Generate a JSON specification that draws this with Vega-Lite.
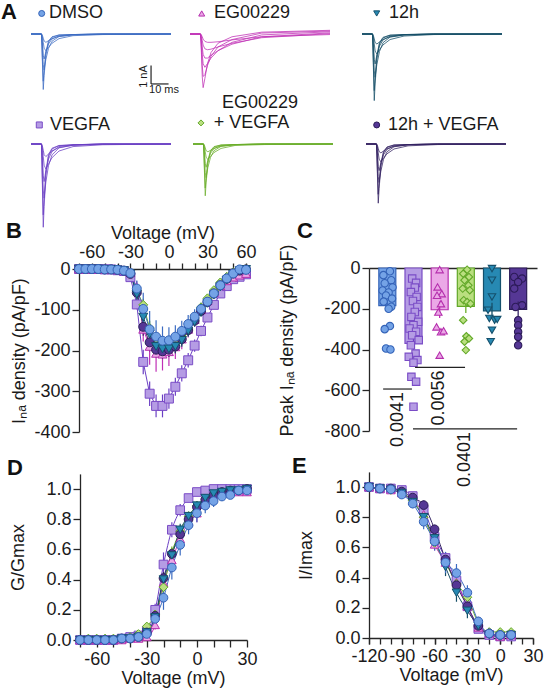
{
  "$schema": "https://vega.github.io/schema/vega-lite/v6.json",
  "width": 544,
  "height": 696,
  "padding": 0,
  "autosize": {"type": "none"},
  "background": "white",
  "config": {
    "font": "Liberation Sans",
    "view": {"stroke": null},
    "legend": {"disable": true},
    "axis": {
      "grid": false,
      "domainColor": "#262626",
      "domainWidth": 1.3,
      "tickColor": "#262626",
      "tickWidth": 1.3,
      "labelFontSize": 18,
      "titleFontSize": 18,
      "titleFontWeight": "normal",
      "labelColor": "#1a1a1a",
      "titleColor": "#1a1a1a",
      "labelOverlap": false,
      "labelFlush": false
    }
  },
  "datasets": {
    "traces": [
      {"g":"DMSO","k":1,"t":-6,"i":0},{"g":"DMSO","k":1,"t":0,"i":0},{"g":"DMSO","k":1,"t":0.5,"i":-1.5},{"g":"DMSO","k":1,"t":1,"i":-3.0},{"g":"DMSO","k":1,"t":1.5,"i":-2.25},{"g":"DMSO","k":1,"t":2.5,"i":-1.14},{"g":"DMSO","k":1,"t":4,"i":-0.45},{"g":"DMSO","k":1,"t":6,"i":-0.18},{"g":"DMSO","k":1,"t":10,"i":-0.06},{"g":"DMSO","k":1,"t":18,"i":-0.03},{"g":"DMSO","k":1,"t":35,"i":0},{"g":"DMSO","k":1,"t":74,"i":0},
      {"g":"DMSO","k":2,"t":-6,"i":0},{"g":"DMSO","k":2,"t":0,"i":0},{"g":"DMSO","k":2,"t":0.5,"i":-1.28},{"g":"DMSO","k":2,"t":1,"i":-2.55},{"g":"DMSO","k":2,"t":1.5,"i":-1.91},{"g":"DMSO","k":2,"t":2.5,"i":-0.97},{"g":"DMSO","k":2,"t":4,"i":-0.38},{"g":"DMSO","k":2,"t":6,"i":-0.15},{"g":"DMSO","k":2,"t":10,"i":-0.05},{"g":"DMSO","k":2,"t":18,"i":-0.03},{"g":"DMSO","k":2,"t":35,"i":0},{"g":"DMSO","k":2,"t":74,"i":0},
      {"g":"DMSO","k":3,"t":-6,"i":0},{"g":"DMSO","k":3,"t":0,"i":0},{"g":"DMSO","k":3,"t":0.5,"i":-0.59},{"g":"DMSO","k":3,"t":1,"i":-1.66},{"g":"DMSO","k":3,"t":1.5,"i":-1.95},{"g":"DMSO","k":3,"t":2.5,"i":-1.37},{"g":"DMSO","k":3,"t":4,"i":-0.78},{"g":"DMSO","k":3,"t":6,"i":-0.39},{"g":"DMSO","k":3,"t":10,"i":-0.14},{"g":"DMSO","k":3,"t":18,"i":-0.04},{"g":"DMSO","k":3,"t":35,"i":0},{"g":"DMSO","k":3,"t":74,"i":0},
      {"g":"DMSO","k":4,"t":-6,"i":0},{"g":"DMSO","k":4,"t":0,"i":0},{"g":"DMSO","k":4,"t":0.5,"i":-0.41},{"g":"DMSO","k":4,"t":1,"i":-1.15},{"g":"DMSO","k":4,"t":1.5,"i":-1.35},{"g":"DMSO","k":4,"t":2.5,"i":-0.95},{"g":"DMSO","k":4,"t":4,"i":-0.54},{"g":"DMSO","k":4,"t":6,"i":-0.27},{"g":"DMSO","k":4,"t":10,"i":-0.1},{"g":"DMSO","k":4,"t":18,"i":-0.03},{"g":"DMSO","k":4,"t":35,"i":0},{"g":"DMSO","k":4,"t":74,"i":0},
      {"g":"DMSO","k":5,"t":-6,"i":0},{"g":"DMSO","k":5,"t":0,"i":0},{"g":"DMSO","k":5,"t":0.5,"i":-0.14},{"g":"DMSO","k":5,"t":1,"i":-0.45},{"g":"DMSO","k":5,"t":1.5,"i":-0.77},{"g":"DMSO","k":5,"t":2.5,"i":-0.9},{"g":"DMSO","k":5,"t":4,"i":-0.72},{"g":"DMSO","k":5,"t":6,"i":-0.5},{"g":"DMSO","k":5,"t":10,"i":-0.25},{"g":"DMSO","k":5,"t":18,"i":-0.09},{"g":"DMSO","k":5,"t":35,"i":-0.03},{"g":"DMSO","k":5,"t":74,"i":0},
      {"g":"DMSO","k":6,"t":-6,"i":0},{"g":"DMSO","k":6,"t":0,"i":0},{"g":"DMSO","k":6,"t":0.5,"i":-0.07},{"g":"DMSO","k":6,"t":1,"i":-0.23},{"g":"DMSO","k":6,"t":1.5,"i":-0.38},{"g":"DMSO","k":6,"t":2.5,"i":-0.45},{"g":"DMSO","k":6,"t":4,"i":-0.36},{"g":"DMSO","k":6,"t":6,"i":-0.25},{"g":"DMSO","k":6,"t":10,"i":-0.13},{"g":"DMSO","k":6,"t":18,"i":-0.05},{"g":"DMSO","k":6,"t":35,"i":-0.02},{"g":"DMSO","k":6,"t":74,"i":0},

      {"g":"EG00229","k":1,"t":-6,"i":0},{"g":"EG00229","k":1,"t":0,"i":0},{"g":"EG00229","k":1,"t":0.5,"i":-1.0},{"g":"EG00229","k":1,"t":1,"i":-2.3},{"g":"EG00229","k":1,"t":1.5,"i":-2.9},{"g":"EG00229","k":1,"t":2.5,"i":-2.4},{"g":"EG00229","k":1,"t":4,"i":-1.6},{"g":"EG00229","k":1,"t":6,"i":-1.0},{"g":"EG00229","k":1,"t":10,"i":-0.5},{"g":"EG00229","k":1,"t":18,"i":-0.15},{"g":"EG00229","k":1,"t":35,"i":0.1},{"g":"EG00229","k":1,"t":74,"i":0.2},
      {"g":"EG00229","k":2,"t":-6,"i":0},{"g":"EG00229","k":2,"t":0,"i":0},{"g":"EG00229","k":2,"t":0.5,"i":-0.7},{"g":"EG00229","k":2,"t":1,"i":-1.7},{"g":"EG00229","k":2,"t":1.5,"i":-2.3},{"g":"EG00229","k":2,"t":2.5,"i":-2.2},{"g":"EG00229","k":2,"t":4,"i":-1.7},{"g":"EG00229","k":2,"t":6,"i":-1.2},{"g":"EG00229","k":2,"t":10,"i":-0.7},{"g":"EG00229","k":2,"t":18,"i":-0.3},{"g":"EG00229","k":2,"t":35,"i":0.05},{"g":"EG00229","k":2,"t":74,"i":0.16},
      {"g":"EG00229","k":3,"t":-6,"i":0},{"g":"EG00229","k":3,"t":0,"i":0},{"g":"EG00229","k":3,"t":0.5,"i":-0.4},{"g":"EG00229","k":3,"t":1,"i":-1.1},{"g":"EG00229","k":3,"t":1.5,"i":-1.6},{"g":"EG00229","k":3,"t":2.5,"i":-1.8},{"g":"EG00229","k":3,"t":4,"i":-1.6},{"g":"EG00229","k":3,"t":6,"i":-1.3},{"g":"EG00229","k":3,"t":10,"i":-0.9},{"g":"EG00229","k":3,"t":18,"i":-0.45},{"g":"EG00229","k":3,"t":35,"i":-0.05},{"g":"EG00229","k":3,"t":74,"i":0.12},
      {"g":"EG00229","k":4,"t":-6,"i":0},{"g":"EG00229","k":4,"t":0,"i":0},{"g":"EG00229","k":4,"t":0.5,"i":-0.25},{"g":"EG00229","k":4,"t":1,"i":-0.7},{"g":"EG00229","k":4,"t":1.5,"i":-1.1},{"g":"EG00229","k":4,"t":2.5,"i":-1.3},{"g":"EG00229","k":4,"t":4,"i":-1.3},{"g":"EG00229","k":4,"t":6,"i":-1.15},{"g":"EG00229","k":4,"t":10,"i":-0.9},{"g":"EG00229","k":4,"t":18,"i":-0.55},{"g":"EG00229","k":4,"t":35,"i":-0.15},{"g":"EG00229","k":4,"t":74,"i":0.06},
      {"g":"EG00229","k":5,"t":-6,"i":0},{"g":"EG00229","k":5,"t":0,"i":0},{"g":"EG00229","k":5,"t":0.5,"i":-0.12},{"g":"EG00229","k":5,"t":1,"i":-0.35},{"g":"EG00229","k":5,"t":1.5,"i":-0.6},{"g":"EG00229","k":5,"t":2.5,"i":-0.8},{"g":"EG00229","k":5,"t":4,"i":-0.85},{"g":"EG00229","k":5,"t":6,"i":-0.82},{"g":"EG00229","k":5,"t":10,"i":-0.7},{"g":"EG00229","k":5,"t":18,"i":-0.5},{"g":"EG00229","k":5,"t":35,"i":-0.2},{"g":"EG00229","k":5,"t":74,"i":0.02},
      {"g":"EG00229","k":6,"t":-6,"i":0},{"g":"EG00229","k":6,"t":0,"i":0},{"g":"EG00229","k":6,"t":0.5,"i":-0.05},{"g":"EG00229","k":6,"t":1,"i":-0.15},{"g":"EG00229","k":6,"t":1.5,"i":-0.28},{"g":"EG00229","k":6,"t":2.5,"i":-0.4},{"g":"EG00229","k":6,"t":4,"i":-0.45},{"g":"EG00229","k":6,"t":6,"i":-0.45},{"g":"EG00229","k":6,"t":10,"i":-0.42},{"g":"EG00229","k":6,"t":18,"i":-0.32},{"g":"EG00229","k":6,"t":35,"i":-0.15},{"g":"EG00229","k":6,"t":74,"i":-0.03},

      {"g":"12h","k":1,"t":-6,"i":0},{"g":"12h","k":1,"t":0,"i":0},{"g":"12h","k":1,"t":0.5,"i":-1.8},{"g":"12h","k":1,"t":1,"i":-3.6},{"g":"12h","k":1,"t":1.5,"i":-2.7},{"g":"12h","k":1,"t":2.5,"i":-1.37},{"g":"12h","k":1,"t":4,"i":-0.54},{"g":"12h","k":1,"t":6,"i":-0.22},{"g":"12h","k":1,"t":10,"i":-0.07},{"g":"12h","k":1,"t":18,"i":-0.04},{"g":"12h","k":1,"t":35,"i":0},{"g":"12h","k":1,"t":74,"i":0},
      {"g":"12h","k":2,"t":-6,"i":0},{"g":"12h","k":2,"t":0,"i":0},{"g":"12h","k":2,"t":0.5,"i":-1.53},{"g":"12h","k":2,"t":1,"i":-3.06},{"g":"12h","k":2,"t":1.5,"i":-2.3},{"g":"12h","k":2,"t":2.5,"i":-1.16},{"g":"12h","k":2,"t":4,"i":-0.46},{"g":"12h","k":2,"t":6,"i":-0.18},{"g":"12h","k":2,"t":10,"i":-0.06},{"g":"12h","k":2,"t":18,"i":-0.03},{"g":"12h","k":2,"t":35,"i":0},{"g":"12h","k":2,"t":74,"i":0},
      {"g":"12h","k":3,"t":-6,"i":0},{"g":"12h","k":3,"t":0,"i":0},{"g":"12h","k":3,"t":0.5,"i":-0.7},{"g":"12h","k":3,"t":1,"i":-1.99},{"g":"12h","k":3,"t":1.5,"i":-2.34},{"g":"12h","k":3,"t":2.5,"i":-1.64},{"g":"12h","k":3,"t":4,"i":-0.94},{"g":"12h","k":3,"t":6,"i":-0.47},{"g":"12h","k":3,"t":10,"i":-0.17},{"g":"12h","k":3,"t":18,"i":-0.05},{"g":"12h","k":3,"t":35,"i":0},{"g":"12h","k":3,"t":74,"i":0},
      {"g":"12h","k":4,"t":-6,"i":0},{"g":"12h","k":4,"t":0,"i":0},{"g":"12h","k":4,"t":0.5,"i":-0.49},{"g":"12h","k":4,"t":1,"i":-1.38},{"g":"12h","k":4,"t":1.5,"i":-1.62},{"g":"12h","k":4,"t":2.5,"i":-1.13},{"g":"12h","k":4,"t":4,"i":-0.65},{"g":"12h","k":4,"t":6,"i":-0.32},{"g":"12h","k":4,"t":10,"i":-0.12},{"g":"12h","k":4,"t":18,"i":-0.03},{"g":"12h","k":4,"t":35,"i":0},{"g":"12h","k":4,"t":74,"i":0},
      {"g":"12h","k":5,"t":-6,"i":0},{"g":"12h","k":5,"t":0,"i":0},{"g":"12h","k":5,"t":0.5,"i":-0.16},{"g":"12h","k":5,"t":1,"i":-0.54},{"g":"12h","k":5,"t":1.5,"i":-0.92},{"g":"12h","k":5,"t":2.5,"i":-1.08},{"g":"12h","k":5,"t":4,"i":-0.86},{"g":"12h","k":5,"t":6,"i":-0.59},{"g":"12h","k":5,"t":10,"i":-0.3},{"g":"12h","k":5,"t":18,"i":-0.11},{"g":"12h","k":5,"t":35,"i":-0.03},{"g":"12h","k":5,"t":74,"i":0},
      {"g":"12h","k":6,"t":-6,"i":0},{"g":"12h","k":6,"t":0,"i":0},{"g":"12h","k":6,"t":0.5,"i":-0.08},{"g":"12h","k":6,"t":1,"i":-0.27},{"g":"12h","k":6,"t":1.5,"i":-0.46},{"g":"12h","k":6,"t":2.5,"i":-0.54},{"g":"12h","k":6,"t":4,"i":-0.43},{"g":"12h","k":6,"t":6,"i":-0.3},{"g":"12h","k":6,"t":10,"i":-0.15},{"g":"12h","k":6,"t":18,"i":-0.05},{"g":"12h","k":6,"t":35,"i":-0.02},{"g":"12h","k":6,"t":74,"i":0},

      {"g":"VEGFA","k":1,"t":-6,"i":0},{"g":"VEGFA","k":1,"t":0,"i":0},{"g":"VEGFA","k":1,"t":0.5,"i":-2.25},{"g":"VEGFA","k":1,"t":1,"i":-4.5},{"g":"VEGFA","k":1,"t":1.5,"i":-3.38},{"g":"VEGFA","k":1,"t":2.5,"i":-1.71},{"g":"VEGFA","k":1,"t":4,"i":-0.68},{"g":"VEGFA","k":1,"t":6,"i":-0.27},{"g":"VEGFA","k":1,"t":10,"i":-0.09},{"g":"VEGFA","k":1,"t":18,"i":-0.05},{"g":"VEGFA","k":1,"t":35,"i":0},{"g":"VEGFA","k":1,"t":74,"i":0},
      {"g":"VEGFA","k":2,"t":-6,"i":0},{"g":"VEGFA","k":2,"t":0,"i":0},{"g":"VEGFA","k":2,"t":0.5,"i":-1.91},{"g":"VEGFA","k":2,"t":1,"i":-3.83},{"g":"VEGFA","k":2,"t":1.5,"i":-2.87},{"g":"VEGFA","k":2,"t":2.5,"i":-1.45},{"g":"VEGFA","k":2,"t":4,"i":-0.58},{"g":"VEGFA","k":2,"t":6,"i":-0.23},{"g":"VEGFA","k":2,"t":10,"i":-0.08},{"g":"VEGFA","k":2,"t":18,"i":-0.04},{"g":"VEGFA","k":2,"t":35,"i":0},{"g":"VEGFA","k":2,"t":74,"i":0},
      {"g":"VEGFA","k":3,"t":-6,"i":0},{"g":"VEGFA","k":3,"t":0,"i":0},{"g":"VEGFA","k":3,"t":0.5,"i":-0.88},{"g":"VEGFA","k":3,"t":1,"i":-2.49},{"g":"VEGFA","k":3,"t":1.5,"i":-2.93},{"g":"VEGFA","k":3,"t":2.5,"i":-2.05},{"g":"VEGFA","k":3,"t":4,"i":-1.17},{"g":"VEGFA","k":3,"t":6,"i":-0.59},{"g":"VEGFA","k":3,"t":10,"i":-0.21},{"g":"VEGFA","k":3,"t":18,"i":-0.06},{"g":"VEGFA","k":3,"t":35,"i":0},{"g":"VEGFA","k":3,"t":74,"i":0},
      {"g":"VEGFA","k":4,"t":-6,"i":0},{"g":"VEGFA","k":4,"t":0,"i":0},{"g":"VEGFA","k":4,"t":0.5,"i":-0.61},{"g":"VEGFA","k":4,"t":1,"i":-1.72},{"g":"VEGFA","k":4,"t":1.5,"i":-2.03},{"g":"VEGFA","k":4,"t":2.5,"i":-1.42},{"g":"VEGFA","k":4,"t":4,"i":-0.81},{"g":"VEGFA","k":4,"t":6,"i":-0.41},{"g":"VEGFA","k":4,"t":10,"i":-0.14},{"g":"VEGFA","k":4,"t":18,"i":-0.04},{"g":"VEGFA","k":4,"t":35,"i":0},{"g":"VEGFA","k":4,"t":74,"i":0},
      {"g":"VEGFA","k":5,"t":-6,"i":0},{"g":"VEGFA","k":5,"t":0,"i":0},{"g":"VEGFA","k":5,"t":0.5,"i":-0.2},{"g":"VEGFA","k":5,"t":1,"i":-0.68},{"g":"VEGFA","k":5,"t":1.5,"i":-1.15},{"g":"VEGFA","k":5,"t":2.5,"i":-1.35},{"g":"VEGFA","k":5,"t":4,"i":-1.08},{"g":"VEGFA","k":5,"t":6,"i":-0.74},{"g":"VEGFA","k":5,"t":10,"i":-0.38},{"g":"VEGFA","k":5,"t":18,"i":-0.14},{"g":"VEGFA","k":5,"t":35,"i":-0.04},{"g":"VEGFA","k":5,"t":74,"i":0},
      {"g":"VEGFA","k":6,"t":-6,"i":0},{"g":"VEGFA","k":6,"t":0,"i":0},{"g":"VEGFA","k":6,"t":0.5,"i":-0.1},{"g":"VEGFA","k":6,"t":1,"i":-0.34},{"g":"VEGFA","k":6,"t":1.5,"i":-0.58},{"g":"VEGFA","k":6,"t":2.5,"i":-0.68},{"g":"VEGFA","k":6,"t":4,"i":-0.54},{"g":"VEGFA","k":6,"t":6,"i":-0.37},{"g":"VEGFA","k":6,"t":10,"i":-0.19},{"g":"VEGFA","k":6,"t":18,"i":-0.07},{"g":"VEGFA","k":6,"t":35,"i":-0.02},{"g":"VEGFA","k":6,"t":74,"i":0},

      {"g":"EG00229 + VEGFA","k":1,"t":-6,"i":0},{"g":"EG00229 + VEGFA","k":1,"t":0,"i":0},{"g":"EG00229 + VEGFA","k":1,"t":0.5,"i":-1.4},{"g":"EG00229 + VEGFA","k":1,"t":1,"i":-2.8},{"g":"EG00229 + VEGFA","k":1,"t":1.5,"i":-2.1},{"g":"EG00229 + VEGFA","k":1,"t":2.5,"i":-1.06},{"g":"EG00229 + VEGFA","k":1,"t":4,"i":-0.42},{"g":"EG00229 + VEGFA","k":1,"t":6,"i":-0.17},{"g":"EG00229 + VEGFA","k":1,"t":10,"i":-0.06},{"g":"EG00229 + VEGFA","k":1,"t":18,"i":-0.03},{"g":"EG00229 + VEGFA","k":1,"t":35,"i":0},{"g":"EG00229 + VEGFA","k":1,"t":74,"i":0},
      {"g":"EG00229 + VEGFA","k":2,"t":-6,"i":0},{"g":"EG00229 + VEGFA","k":2,"t":0,"i":0},{"g":"EG00229 + VEGFA","k":2,"t":0.5,"i":-1.19},{"g":"EG00229 + VEGFA","k":2,"t":1,"i":-2.38},{"g":"EG00229 + VEGFA","k":2,"t":1.5,"i":-1.79},{"g":"EG00229 + VEGFA","k":2,"t":2.5,"i":-0.9},{"g":"EG00229 + VEGFA","k":2,"t":4,"i":-0.36},{"g":"EG00229 + VEGFA","k":2,"t":6,"i":-0.14},{"g":"EG00229 + VEGFA","k":2,"t":10,"i":-0.05},{"g":"EG00229 + VEGFA","k":2,"t":18,"i":-0.03},{"g":"EG00229 + VEGFA","k":2,"t":35,"i":0},{"g":"EG00229 + VEGFA","k":2,"t":74,"i":0},
      {"g":"EG00229 + VEGFA","k":3,"t":-6,"i":0},{"g":"EG00229 + VEGFA","k":3,"t":0,"i":0},{"g":"EG00229 + VEGFA","k":3,"t":0.5,"i":-0.55},{"g":"EG00229 + VEGFA","k":3,"t":1,"i":-1.55},{"g":"EG00229 + VEGFA","k":3,"t":1.5,"i":-1.82},{"g":"EG00229 + VEGFA","k":3,"t":2.5,"i":-1.27},{"g":"EG00229 + VEGFA","k":3,"t":4,"i":-0.73},{"g":"EG00229 + VEGFA","k":3,"t":6,"i":-0.36},{"g":"EG00229 + VEGFA","k":3,"t":10,"i":-0.13},{"g":"EG00229 + VEGFA","k":3,"t":18,"i":-0.04},{"g":"EG00229 + VEGFA","k":3,"t":35,"i":0},{"g":"EG00229 + VEGFA","k":3,"t":74,"i":0},
      {"g":"EG00229 + VEGFA","k":4,"t":-6,"i":0},{"g":"EG00229 + VEGFA","k":4,"t":0,"i":0},{"g":"EG00229 + VEGFA","k":4,"t":0.5,"i":-0.38},{"g":"EG00229 + VEGFA","k":4,"t":1,"i":-1.07},{"g":"EG00229 + VEGFA","k":4,"t":1.5,"i":-1.26},{"g":"EG00229 + VEGFA","k":4,"t":2.5,"i":-0.88},{"g":"EG00229 + VEGFA","k":4,"t":4,"i":-0.5},{"g":"EG00229 + VEGFA","k":4,"t":6,"i":-0.25},{"g":"EG00229 + VEGFA","k":4,"t":10,"i":-0.09},{"g":"EG00229 + VEGFA","k":4,"t":18,"i":-0.03},{"g":"EG00229 + VEGFA","k":4,"t":35,"i":0},{"g":"EG00229 + VEGFA","k":4,"t":74,"i":0},
      {"g":"EG00229 + VEGFA","k":5,"t":-6,"i":0},{"g":"EG00229 + VEGFA","k":5,"t":0,"i":0},{"g":"EG00229 + VEGFA","k":5,"t":0.5,"i":-0.13},{"g":"EG00229 + VEGFA","k":5,"t":1,"i":-0.42},{"g":"EG00229 + VEGFA","k":5,"t":1.5,"i":-0.71},{"g":"EG00229 + VEGFA","k":5,"t":2.5,"i":-0.84},{"g":"EG00229 + VEGFA","k":5,"t":4,"i":-0.67},{"g":"EG00229 + VEGFA","k":5,"t":6,"i":-0.46},{"g":"EG00229 + VEGFA","k":5,"t":10,"i":-0.24},{"g":"EG00229 + VEGFA","k":5,"t":18,"i":-0.08},{"g":"EG00229 + VEGFA","k":5,"t":35,"i":-0.03},{"g":"EG00229 + VEGFA","k":5,"t":74,"i":0},
      {"g":"EG00229 + VEGFA","k":6,"t":-6,"i":0},{"g":"EG00229 + VEGFA","k":6,"t":0,"i":0},{"g":"EG00229 + VEGFA","k":6,"t":0.5,"i":-0.06},{"g":"EG00229 + VEGFA","k":6,"t":1,"i":-0.21},{"g":"EG00229 + VEGFA","k":6,"t":1.5,"i":-0.36},{"g":"EG00229 + VEGFA","k":6,"t":2.5,"i":-0.42},{"g":"EG00229 + VEGFA","k":6,"t":4,"i":-0.34},{"g":"EG00229 + VEGFA","k":6,"t":6,"i":-0.23},{"g":"EG00229 + VEGFA","k":6,"t":10,"i":-0.12},{"g":"EG00229 + VEGFA","k":6,"t":18,"i":-0.04},{"g":"EG00229 + VEGFA","k":6,"t":35,"i":-0.01},{"g":"EG00229 + VEGFA","k":6,"t":74,"i":0},

      {"g":"12h + VEGFA","k":1,"t":-6,"i":0},{"g":"12h + VEGFA","k":1,"t":0,"i":0},{"g":"12h + VEGFA","k":1,"t":0.5,"i":-1.6},{"g":"12h + VEGFA","k":1,"t":1,"i":-3.2},{"g":"12h + VEGFA","k":1,"t":1.5,"i":-2.4},{"g":"12h + VEGFA","k":1,"t":2.5,"i":-1.22},{"g":"12h + VEGFA","k":1,"t":4,"i":-0.48},{"g":"12h + VEGFA","k":1,"t":6,"i":-0.19},{"g":"12h + VEGFA","k":1,"t":10,"i":-0.06},{"g":"12h + VEGFA","k":1,"t":18,"i":-0.03},{"g":"12h + VEGFA","k":1,"t":35,"i":0},{"g":"12h + VEGFA","k":1,"t":74,"i":0},
      {"g":"12h + VEGFA","k":2,"t":-6,"i":0},{"g":"12h + VEGFA","k":2,"t":0,"i":0},{"g":"12h + VEGFA","k":2,"t":0.5,"i":-1.36},{"g":"12h + VEGFA","k":2,"t":1,"i":-2.72},{"g":"12h + VEGFA","k":2,"t":1.5,"i":-2.04},{"g":"12h + VEGFA","k":2,"t":2.5,"i":-1.03},{"g":"12h + VEGFA","k":2,"t":4,"i":-0.41},{"g":"12h + VEGFA","k":2,"t":6,"i":-0.16},{"g":"12h + VEGFA","k":2,"t":10,"i":-0.05},{"g":"12h + VEGFA","k":2,"t":18,"i":-0.03},{"g":"12h + VEGFA","k":2,"t":35,"i":0},{"g":"12h + VEGFA","k":2,"t":74,"i":0},
      {"g":"12h + VEGFA","k":3,"t":-6,"i":0},{"g":"12h + VEGFA","k":3,"t":0,"i":0},{"g":"12h + VEGFA","k":3,"t":0.5,"i":-0.62},{"g":"12h + VEGFA","k":3,"t":1,"i":-1.77},{"g":"12h + VEGFA","k":3,"t":1.5,"i":-2.08},{"g":"12h + VEGFA","k":3,"t":2.5,"i":-1.46},{"g":"12h + VEGFA","k":3,"t":4,"i":-0.83},{"g":"12h + VEGFA","k":3,"t":6,"i":-0.42},{"g":"12h + VEGFA","k":3,"t":10,"i":-0.15},{"g":"12h + VEGFA","k":3,"t":18,"i":-0.04},{"g":"12h + VEGFA","k":3,"t":35,"i":0},{"g":"12h + VEGFA","k":3,"t":74,"i":0},
      {"g":"12h + VEGFA","k":4,"t":-6,"i":0},{"g":"12h + VEGFA","k":4,"t":0,"i":0},{"g":"12h + VEGFA","k":4,"t":0.5,"i":-0.43},{"g":"12h + VEGFA","k":4,"t":1,"i":-1.23},{"g":"12h + VEGFA","k":4,"t":1.5,"i":-1.44},{"g":"12h + VEGFA","k":4,"t":2.5,"i":-1.01},{"g":"12h + VEGFA","k":4,"t":4,"i":-0.58},{"g":"12h + VEGFA","k":4,"t":6,"i":-0.29},{"g":"12h + VEGFA","k":4,"t":10,"i":-0.1},{"g":"12h + VEGFA","k":4,"t":18,"i":-0.03},{"g":"12h + VEGFA","k":4,"t":35,"i":0},{"g":"12h + VEGFA","k":4,"t":74,"i":0},
      {"g":"12h + VEGFA","k":5,"t":-6,"i":0},{"g":"12h + VEGFA","k":5,"t":0,"i":0},{"g":"12h + VEGFA","k":5,"t":0.5,"i":-0.14},{"g":"12h + VEGFA","k":5,"t":1,"i":-0.48},{"g":"12h + VEGFA","k":5,"t":1.5,"i":-0.82},{"g":"12h + VEGFA","k":5,"t":2.5,"i":-0.96},{"g":"12h + VEGFA","k":5,"t":4,"i":-0.77},{"g":"12h + VEGFA","k":5,"t":6,"i":-0.53},{"g":"12h + VEGFA","k":5,"t":10,"i":-0.27},{"g":"12h + VEGFA","k":5,"t":18,"i":-0.1},{"g":"12h + VEGFA","k":5,"t":35,"i":-0.03},{"g":"12h + VEGFA","k":5,"t":74,"i":0},
      {"g":"12h + VEGFA","k":6,"t":-6,"i":0},{"g":"12h + VEGFA","k":6,"t":0,"i":0},{"g":"12h + VEGFA","k":6,"t":0.5,"i":-0.07},{"g":"12h + VEGFA","k":6,"t":1,"i":-0.24},{"g":"12h + VEGFA","k":6,"t":1.5,"i":-0.41},{"g":"12h + VEGFA","k":6,"t":2.5,"i":-0.48},{"g":"12h + VEGFA","k":6,"t":4,"i":-0.38},{"g":"12h + VEGFA","k":6,"t":6,"i":-0.26},{"g":"12h + VEGFA","k":6,"t":10,"i":-0.13},{"g":"12h + VEGFA","k":6,"t":18,"i":-0.05},{"g":"12h + VEGFA","k":6,"t":35,"i":-0.02},{"g":"12h + VEGFA","k":6,"t":74,"i":0}
    ],
    "iv": [
      {"g":"VEGFA","v":-70,"m":0,"e":0},{"g":"VEGFA","v":-65,"m":0,"e":0},{"g":"VEGFA","v":-60,"m":0,"e":0},{"g":"VEGFA","v":-55,"m":0,"e":0},{"g":"VEGFA","v":-50,"m":-1,"e":0},{"g":"VEGFA","v":-45,"m":-1,"e":0},{"g":"VEGFA","v":-40,"m":-3,"e":1},{"g":"VEGFA","v":-35,"m":-5,"e":2},{"g":"VEGFA","v":-30,"m":-20,"e":6},{"g":"VEGFA","v":-25,"m":-87,"e":12},{"g":"VEGFA","v":-20,"m":-228,"e":30},{"g":"VEGFA","v":-15,"m":-306,"e":30},{"g":"VEGFA","v":-10,"m":-336,"e":28},{"g":"VEGFA","v":-5,"m":-336,"e":28},{"g":"VEGFA","v":0,"m":-318,"e":25},{"g":"VEGFA","v":5,"m":-289,"e":22},{"g":"VEGFA","v":10,"m":-256,"e":20},{"g":"VEGFA","v":15,"m":-224,"e":18},{"g":"VEGFA","v":20,"m":-188,"e":15},{"g":"VEGFA","v":25,"m":-152,"e":13},{"g":"VEGFA","v":30,"m":-119,"e":11},{"g":"VEGFA","v":35,"m":-88,"e":9},{"g":"VEGFA","v":40,"m":-60,"e":7},{"g":"VEGFA","v":45,"m":-42,"e":6},{"g":"VEGFA","v":50,"m":-25,"e":5},{"g":"VEGFA","v":55,"m":-19,"e":4},{"g":"VEGFA","v":60,"m":-13,"e":4},
      {"g":"EG00229","v":-70,"m":0,"e":0},{"g":"EG00229","v":-65,"m":0,"e":0},{"g":"EG00229","v":-60,"m":0,"e":0},{"g":"EG00229","v":-55,"m":0,"e":0},{"g":"EG00229","v":-50,"m":-1,"e":0},{"g":"EG00229","v":-45,"m":-1,"e":0},{"g":"EG00229","v":-40,"m":-2,"e":1},{"g":"EG00229","v":-35,"m":-3,"e":1},{"g":"EG00229","v":-30,"m":-8,"e":4},{"g":"EG00229","v":-25,"m":-45,"e":15},{"g":"EG00229","v":-20,"m":-148,"e":30},{"g":"EG00229","v":-15,"m":-190,"e":45},{"g":"EG00229","v":-10,"m":-207,"e":45},{"g":"EG00229","v":-5,"m":-209,"e":40},{"g":"EG00229","v":0,"m":-203,"e":35},{"g":"EG00229","v":5,"m":-191,"e":30},{"g":"EG00229","v":10,"m":-172,"e":25},{"g":"EG00229","v":15,"m":-148,"e":20},{"g":"EG00229","v":20,"m":-124,"e":17},{"g":"EG00229","v":25,"m":-100,"e":14},{"g":"EG00229","v":30,"m":-78,"e":12},{"g":"EG00229","v":35,"m":-58,"e":10},{"g":"EG00229","v":40,"m":-41,"e":8},{"g":"EG00229","v":45,"m":-29,"e":7},{"g":"EG00229","v":50,"m":-20,"e":6},{"g":"EG00229","v":55,"m":-15,"e":5},{"g":"EG00229","v":60,"m":-11,"e":5},
      {"g":"EG00229 + VEGFA","v":-70,"m":0,"e":0},{"g":"EG00229 + VEGFA","v":-65,"m":0,"e":0},{"g":"EG00229 + VEGFA","v":-60,"m":0,"e":0},{"g":"EG00229 + VEGFA","v":-55,"m":0,"e":0},{"g":"EG00229 + VEGFA","v":-50,"m":-1,"e":0},{"g":"EG00229 + VEGFA","v":-45,"m":-1,"e":0},{"g":"EG00229 + VEGFA","v":-40,"m":-2,"e":1},{"g":"EG00229 + VEGFA","v":-35,"m":-4,"e":1},{"g":"EG00229 + VEGFA","v":-30,"m":-10,"e":4},{"g":"EG00229 + VEGFA","v":-25,"m":-52,"e":10},{"g":"EG00229 + VEGFA","v":-20,"m":-88,"e":15},{"g":"EG00229 + VEGFA","v":-15,"m":-145,"e":18},{"g":"EG00229 + VEGFA","v":-10,"m":-185,"e":18},{"g":"EG00229 + VEGFA","v":-5,"m":-195,"e":17},{"g":"EG00229 + VEGFA","v":0,"m":-192,"e":16},{"g":"EG00229 + VEGFA","v":5,"m":-182,"e":15},{"g":"EG00229 + VEGFA","v":10,"m":-165,"e":14},{"g":"EG00229 + VEGFA","v":15,"m":-145,"e":12},{"g":"EG00229 + VEGFA","v":20,"m":-118,"e":11},{"g":"EG00229 + VEGFA","v":25,"m":-94,"e":10},{"g":"EG00229 + VEGFA","v":30,"m":-72,"e":9},{"g":"EG00229 + VEGFA","v":35,"m":-52,"e":8},{"g":"EG00229 + VEGFA","v":40,"m":-33,"e":6},{"g":"EG00229 + VEGFA","v":45,"m":-19,"e":5},{"g":"EG00229 + VEGFA","v":50,"m":-8,"e":4},{"g":"EG00229 + VEGFA","v":55,"m":-3,"e":3},{"g":"EG00229 + VEGFA","v":60,"m":0,"e":3},
      {"g":"12h + VEGFA","v":-70,"m":0,"e":0},{"g":"12h + VEGFA","v":-65,"m":0,"e":0},{"g":"12h + VEGFA","v":-60,"m":0,"e":0},{"g":"12h + VEGFA","v":-55,"m":0,"e":0},{"g":"12h + VEGFA","v":-50,"m":-1,"e":0},{"g":"12h + VEGFA","v":-45,"m":-1,"e":0},{"g":"12h + VEGFA","v":-40,"m":-2,"e":1},{"g":"12h + VEGFA","v":-35,"m":-4,"e":1},{"g":"12h + VEGFA","v":-30,"m":-12,"e":5},{"g":"12h + VEGFA","v":-25,"m":-58,"e":14},{"g":"12h + VEGFA","v":-20,"m":-142,"e":22},{"g":"12h + VEGFA","v":-15,"m":-180,"e":22},{"g":"12h + VEGFA","v":-10,"m":-198,"e":20},{"g":"12h + VEGFA","v":-5,"m":-202,"e":19},{"g":"12h + VEGFA","v":0,"m":-198,"e":18},{"g":"12h + VEGFA","v":5,"m":-190,"e":17},{"g":"12h + VEGFA","v":10,"m":-172,"e":15},{"g":"12h + VEGFA","v":15,"m":-150,"e":14},{"g":"12h + VEGFA","v":20,"m":-127,"e":12},{"g":"12h + VEGFA","v":25,"m":-103,"e":11},{"g":"12h + VEGFA","v":30,"m":-81,"e":10},{"g":"12h + VEGFA","v":35,"m":-60,"e":8},{"g":"12h + VEGFA","v":40,"m":-40,"e":7},{"g":"12h + VEGFA","v":45,"m":-24,"e":5},{"g":"12h + VEGFA","v":50,"m":-11,"e":4},{"g":"12h + VEGFA","v":55,"m":-4,"e":3},{"g":"12h + VEGFA","v":60,"m":-1,"e":3},
      {"g":"12h","v":-70,"m":0,"e":0},{"g":"12h","v":-65,"m":0,"e":0},{"g":"12h","v":-60,"m":0,"e":0},{"g":"12h","v":-55,"m":0,"e":0},{"g":"12h","v":-50,"m":-1,"e":0},{"g":"12h","v":-45,"m":-1,"e":0},{"g":"12h","v":-40,"m":-2,"e":1},{"g":"12h","v":-35,"m":-4,"e":1},{"g":"12h","v":-30,"m":-12,"e":5},{"g":"12h","v":-25,"m":-62,"e":15},{"g":"12h","v":-20,"m":-118,"e":25},{"g":"12h","v":-15,"m":-160,"e":25},{"g":"12h","v":-10,"m":-190,"e":22},{"g":"12h","v":-5,"m":-196,"e":20},{"g":"12h","v":0,"m":-196,"e":18},{"g":"12h","v":5,"m":-190,"e":17},{"g":"12h","v":10,"m":-175,"e":16},{"g":"12h","v":15,"m":-152,"e":14},{"g":"12h","v":20,"m":-130,"e":12},{"g":"12h","v":25,"m":-106,"e":11},{"g":"12h","v":30,"m":-84,"e":10},{"g":"12h","v":35,"m":-64,"e":8},{"g":"12h","v":40,"m":-44,"e":7},{"g":"12h","v":45,"m":-27,"e":5},{"g":"12h","v":50,"m":-13,"e":4},{"g":"12h","v":55,"m":-4,"e":3},{"g":"12h","v":60,"m":-1,"e":3},
      {"g":"DMSO","v":-70,"m":0,"e":0},{"g":"DMSO","v":-65,"m":0,"e":0},{"g":"DMSO","v":-60,"m":0,"e":0},{"g":"DMSO","v":-55,"m":0,"e":0},{"g":"DMSO","v":-50,"m":-1,"e":0},{"g":"DMSO","v":-45,"m":-1,"e":0},{"g":"DMSO","v":-40,"m":-2,"e":1},{"g":"DMSO","v":-35,"m":-4,"e":1},{"g":"DMSO","v":-30,"m":-10,"e":5},{"g":"DMSO","v":-25,"m":-48,"e":20},{"g":"DMSO","v":-20,"m":-98,"e":40},{"g":"DMSO","v":-15,"m":-148,"e":45},{"g":"DMSO","v":-10,"m":-166,"e":40},{"g":"DMSO","v":-5,"m":-176,"e":35},{"g":"DMSO","v":0,"m":-175,"e":32},{"g":"DMSO","v":5,"m":-166,"e":28},{"g":"DMSO","v":10,"m":-152,"e":25},{"g":"DMSO","v":15,"m":-135,"e":22},{"g":"DMSO","v":20,"m":-117,"e":18},{"g":"DMSO","v":25,"m":-98,"e":15},{"g":"DMSO","v":30,"m":-80,"e":12},{"g":"DMSO","v":35,"m":-60,"e":10},{"g":"DMSO","v":40,"m":-40,"e":8},{"g":"DMSO","v":45,"m":-23,"e":6},{"g":"DMSO","v":50,"m":-11,"e":4},{"g":"DMSO","v":55,"m":-1,"e":3},{"g":"DMSO","v":60,"m":-2,"e":3}
    ],
    "peak": [
      {"g":"DMSO","x":1,"m":-185,"e":28},
      {"g":"VEGFA","x":2,"m":-370,"e":32},
      {"g":"EG00229","x":3,"m":-205,"e":40},
      {"g":"EG00229 + VEGFA","x":4,"m":-188,"e":33},
      {"g":"12h","x":5,"m":-210,"e":40},
      {"g":"12h + VEGFA","x":6,"m":-203,"e":38}
    ],
    "cells": [
      {"g":"DMSO","x":1.10,"y":-16},{"g":"DMSO","x":0.85,"y":-35},{"g":"DMSO","x":1.15,"y":-60},{"g":"DMSO","x":0.90,"y":-75},{"g":"DMSO","x":1.20,"y":-95},{"g":"DMSO","x":0.82,"y":-110},{"g":"DMSO","x":1.05,"y":-120},{"g":"DMSO","x":0.95,"y":-135},{"g":"DMSO","x":1.18,"y":-150},{"g":"DMSO","x":0.86,"y":-165},{"g":"DMSO","x":1.15,"y":-190},{"g":"DMSO","x":1.05,"y":-200},{"g":"DMSO","x":1.10,"y":-285},{"g":"DMSO","x":0.90,"y":-300},{"g":"DMSO","x":0.95,"y":-395},{"g":"DMSO","x":1.12,"y":-400},
      {"g":"VEGFA","x":1.95,"y":-52},{"g":"VEGFA","x":2.10,"y":-73},{"g":"VEGFA","x":2.05,"y":-96},{"g":"VEGFA","x":1.90,"y":-118},{"g":"VEGFA","x":2.12,"y":-142},{"g":"VEGFA","x":1.98,"y":-162},{"g":"VEGFA","x":2.15,"y":-191},{"g":"VEGFA","x":2.05,"y":-216},{"g":"VEGFA","x":1.92,"y":-240},{"g":"VEGFA","x":2.18,"y":-264},{"g":"VEGFA","x":2.00,"y":-281},{"g":"VEGFA","x":1.85,"y":-297},{"g":"VEGFA","x":2.10,"y":-313},{"g":"VEGFA","x":1.95,"y":-330},{"g":"VEGFA","x":2.20,"y":-354},{"g":"VEGFA","x":1.90,"y":-379},{"g":"VEGFA","x":2.08,"y":-420},{"g":"VEGFA","x":1.82,"y":-436},{"g":"VEGFA","x":2.15,"y":-452},{"g":"VEGFA","x":2.00,"y":-465},{"g":"VEGFA","x":1.92,"y":-534},{"g":"VEGFA","x":2.10,"y":-558},{"g":"VEGFA","x":2.00,"y":-681},
      {"g":"EG00229","x":3.00,"y":-8},{"g":"EG00229","x":2.92,"y":-93},{"g":"EG00229","x":3.08,"y":-126},{"g":"EG00229","x":2.90,"y":-134},{"g":"EG00229","x":3.05,"y":-175},{"g":"EG00229","x":2.95,"y":-216},{"g":"EG00229","x":2.88,"y":-289},{"g":"EG00229","x":3.05,"y":-313},{"g":"EG00229","x":3.15,"y":-308},{"g":"EG00229","x":3.00,"y":-428},
      {"g":"EG00229 + VEGFA","x":4.05,"y":-8},{"g":"EG00229 + VEGFA","x":3.90,"y":-28},{"g":"EG00229 + VEGFA","x":4.12,"y":-44},{"g":"EG00229 + VEGFA","x":3.95,"y":-60},{"g":"EG00229 + VEGFA","x":4.10,"y":-85},{"g":"EG00229 + VEGFA","x":3.88,"y":-101},{"g":"EG00229 + VEGFA","x":4.15,"y":-109},{"g":"EG00229 + VEGFA","x":3.92,"y":-158},{"g":"EG00229 + VEGFA","x":4.05,"y":-167},{"g":"EG00229 + VEGFA","x":4.18,"y":-175},{"g":"EG00229 + VEGFA","x":3.90,"y":-256},{"g":"EG00229 + VEGFA","x":4.02,"y":-335},{"g":"EG00229 + VEGFA","x":4.12,"y":-346},{"g":"EG00229 + VEGFA","x":3.95,"y":-362},{"g":"EG00229 + VEGFA","x":4.00,"y":-403},
      {"g":"12h","x":5.00,"y":-3},{"g":"12h","x":5.00,"y":-60},{"g":"12h","x":5.00,"y":-142},{"g":"12h","x":4.85,"y":-207},{"g":"12h","x":4.90,"y":-248},{"g":"12h","x":5.10,"y":-256},{"g":"12h","x":5.20,"y":-253},{"g":"12h","x":5.00,"y":-305},{"g":"12h","x":4.95,"y":-362},
      {"g":"12h + VEGFA","x":5.85,"y":-44},{"g":"12h + VEGFA","x":6.15,"y":-52},{"g":"12h + VEGFA","x":6.00,"y":-69},{"g":"12h + VEGFA","x":5.85,"y":-101},{"g":"12h + VEGFA","x":6.15,"y":-183},{"g":"12h + VEGFA","x":5.90,"y":-191},{"g":"12h + VEGFA","x":6.00,"y":-256},{"g":"12h + VEGFA","x":6.00,"y":-281},{"g":"12h + VEGFA","x":6.00,"y":-313},{"g":"12h + VEGFA","x":6.00,"y":-338},{"g":"12h + VEGFA","x":6.00,"y":-379}
    ],
    "sig": [
      {"a":0.84,"b":1.94,"y":-594,"p":"0.0041","xm":1.41},
      {"a":2.06,"b":3.97,"y":-488,"p":"0.0056","xm":2.96},
      {"a":1.98,"b":5.96,"y":-790,"p":"0.0401","xm":3.97}
    ],
    "act": [
      {"g":"VEGFA","v":-70,"m":0,"e":0},{"g":"VEGFA","v":-65,"m":0,"e":0},{"g":"VEGFA","v":-60,"m":0,"e":0},{"g":"VEGFA","v":-55,"m":0,"e":0},{"g":"VEGFA","v":-50,"m":0,"e":0},{"g":"VEGFA","v":-45,"m":0.01,"e":0},{"g":"VEGFA","v":-40,"m":0.02,"e":0.01},{"g":"VEGFA","v":-35,"m":0.03,"e":0.01},{"g":"VEGFA","v":-30,"m":0.06,"e":0.02},{"g":"VEGFA","v":-25,"m":0.2,"e":0.04},{"g":"VEGFA","v":-20,"m":0.5,"e":0.08},{"g":"VEGFA","v":-15,"m":0.73,"e":0.05},{"g":"VEGFA","v":-10,"m":0.86,"e":0.04},{"g":"VEGFA","v":-5,"m":0.94,"e":0.02},{"g":"VEGFA","v":0,"m":0.98,"e":0.01},{"g":"VEGFA","v":5,"m":0.99,"e":0.01},{"g":"VEGFA","v":10,"m":1,"e":0},{"g":"VEGFA","v":15,"m":1,"e":0},{"g":"VEGFA","v":20,"m":1,"e":0},{"g":"VEGFA","v":25,"m":1,"e":0},{"g":"VEGFA","v":30,"m":1,"e":0},
      {"g":"EG00229","v":-70,"m":0,"e":0},{"g":"EG00229","v":-65,"m":0,"e":0},{"g":"EG00229","v":-60,"m":0,"e":0},{"g":"EG00229","v":-55,"m":0,"e":0},{"g":"EG00229","v":-50,"m":0,"e":0},{"g":"EG00229","v":-45,"m":0,"e":0},{"g":"EG00229","v":-40,"m":0.01,"e":0},{"g":"EG00229","v":-35,"m":0.01,"e":0.01},{"g":"EG00229","v":-30,"m":0.02,"e":0.01},{"g":"EG00229","v":-25,"m":0.1,"e":0.03},{"g":"EG00229","v":-20,"m":0.38,"e":0.06},{"g":"EG00229","v":-15,"m":0.53,"e":0.08},{"g":"EG00229","v":-10,"m":0.67,"e":0.07},{"g":"EG00229","v":-5,"m":0.78,"e":0.06},{"g":"EG00229","v":0,"m":0.84,"e":0.06},{"g":"EG00229","v":5,"m":0.91,"e":0.04},{"g":"EG00229","v":10,"m":0.96,"e":0.03},{"g":"EG00229","v":15,"m":0.97,"e":0.02},{"g":"EG00229","v":20,"m":0.98,"e":0.02},{"g":"EG00229","v":25,"m":0.98,"e":0.02},{"g":"EG00229","v":30,"m":0.98,"e":0.02},
      {"g":"EG00229 + VEGFA","v":-70,"m":0,"e":0},{"g":"EG00229 + VEGFA","v":-65,"m":0.01,"e":0},{"g":"EG00229 + VEGFA","v":-60,"m":0.01,"e":0},{"g":"EG00229 + VEGFA","v":-55,"m":0.01,"e":0},{"g":"EG00229 + VEGFA","v":-50,"m":0.01,"e":0},{"g":"EG00229 + VEGFA","v":-45,"m":0.01,"e":0},{"g":"EG00229 + VEGFA","v":-40,"m":0.02,"e":0.01},{"g":"EG00229 + VEGFA","v":-35,"m":0.04,"e":0.01},{"g":"EG00229 + VEGFA","v":-30,"m":0.09,"e":0.02},{"g":"EG00229 + VEGFA","v":-25,"m":0.17,"e":0.03},{"g":"EG00229 + VEGFA","v":-20,"m":0.35,"e":0.04},{"g":"EG00229 + VEGFA","v":-15,"m":0.58,"e":0.04},{"g":"EG00229 + VEGFA","v":-10,"m":0.72,"e":0.04},{"g":"EG00229 + VEGFA","v":-5,"m":0.82,"e":0.03},{"g":"EG00229 + VEGFA","v":0,"m":0.89,"e":0.03},{"g":"EG00229 + VEGFA","v":5,"m":0.93,"e":0.02},{"g":"EG00229 + VEGFA","v":10,"m":0.96,"e":0.02},{"g":"EG00229 + VEGFA","v":15,"m":0.98,"e":0.01},{"g":"EG00229 + VEGFA","v":20,"m":0.99,"e":0.01},{"g":"EG00229 + VEGFA","v":25,"m":0.99,"e":0.01},{"g":"EG00229 + VEGFA","v":30,"m":1,"e":0},
      {"g":"12h + VEGFA","v":-70,"m":0,"e":0},{"g":"12h + VEGFA","v":-65,"m":0,"e":0},{"g":"12h + VEGFA","v":-60,"m":0,"e":0},{"g":"12h + VEGFA","v":-55,"m":0,"e":0},{"g":"12h + VEGFA","v":-50,"m":0,"e":0},{"g":"12h + VEGFA","v":-45,"m":0.01,"e":0},{"g":"12h + VEGFA","v":-40,"m":0.01,"e":0.01},{"g":"12h + VEGFA","v":-35,"m":0.02,"e":0.01},{"g":"12h + VEGFA","v":-30,"m":0.05,"e":0.02},{"g":"12h + VEGFA","v":-25,"m":0.16,"e":0.03},{"g":"12h + VEGFA","v":-20,"m":0.41,"e":0.04},{"g":"12h + VEGFA","v":-15,"m":0.57,"e":0.04},{"g":"12h + VEGFA","v":-10,"m":0.7,"e":0.04},{"g":"12h + VEGFA","v":-5,"m":0.8,"e":0.03},{"g":"12h + VEGFA","v":0,"m":0.88,"e":0.03},{"g":"12h + VEGFA","v":5,"m":0.93,"e":0.02},{"g":"12h + VEGFA","v":10,"m":0.96,"e":0.02},{"g":"12h + VEGFA","v":15,"m":0.98,"e":0.01},{"g":"12h + VEGFA","v":20,"m":0.99,"e":0.01},{"g":"12h + VEGFA","v":25,"m":0.99,"e":0.01},{"g":"12h + VEGFA","v":30,"m":1,"e":0},
      {"g":"12h","v":-70,"m":0,"e":0},{"g":"12h","v":-65,"m":0,"e":0},{"g":"12h","v":-60,"m":0,"e":0},{"g":"12h","v":-55,"m":0,"e":0},{"g":"12h","v":-50,"m":0,"e":0},{"g":"12h","v":-45,"m":0.01,"e":0},{"g":"12h","v":-40,"m":0.01,"e":0.01},{"g":"12h","v":-35,"m":0.02,"e":0.01},{"g":"12h","v":-30,"m":0.05,"e":0.02},{"g":"12h","v":-25,"m":0.15,"e":0.03},{"g":"12h","v":-20,"m":0.4,"e":0.04},{"g":"12h","v":-15,"m":0.56,"e":0.04},{"g":"12h","v":-10,"m":0.73,"e":0.04},{"g":"12h","v":-5,"m":0.82,"e":0.03},{"g":"12h","v":0,"m":0.89,"e":0.03},{"g":"12h","v":5,"m":0.94,"e":0.02},{"g":"12h","v":10,"m":0.97,"e":0.02},{"g":"12h","v":15,"m":0.98,"e":0.01},{"g":"12h","v":20,"m":0.99,"e":0.01},{"g":"12h","v":25,"m":0.99,"e":0.01},{"g":"12h","v":30,"m":1,"e":0},
      {"g":"DMSO","v":-70,"m":0,"e":0},{"g":"DMSO","v":-65,"m":0,"e":0},{"g":"DMSO","v":-60,"m":0,"e":0},{"g":"DMSO","v":-55,"m":0,"e":0},{"g":"DMSO","v":-50,"m":0,"e":0},{"g":"DMSO","v":-45,"m":0.01,"e":0},{"g":"DMSO","v":-40,"m":0.01,"e":0.01},{"g":"DMSO","v":-35,"m":0.02,"e":0.01},{"g":"DMSO","v":-30,"m":0.04,"e":0.02},{"g":"DMSO","v":-25,"m":0.14,"e":0.04},{"g":"DMSO","v":-20,"m":0.28,"e":0.08},{"g":"DMSO","v":-15,"m":0.48,"e":0.08},{"g":"DMSO","v":-10,"m":0.63,"e":0.07},{"g":"DMSO","v":-5,"m":0.76,"e":0.06},{"g":"DMSO","v":0,"m":0.84,"e":0.06},{"g":"DMSO","v":5,"m":0.89,"e":0.05},{"g":"DMSO","v":10,"m":0.92,"e":0.04},{"g":"DMSO","v":15,"m":0.95,"e":0.03},{"g":"DMSO","v":20,"m":0.96,"e":0.02},{"g":"DMSO","v":25,"m":0.99,"e":0.01},{"g":"DMSO","v":30,"m":0.99,"e":0.01}
    ],
    "inact": [
      {"g":"VEGFA","v":-120,"m":1,"e":0},{"g":"VEGFA","v":-110,"m":0.99,"e":0},{"g":"VEGFA","v":-100,"m":0.99,"e":0},{"g":"VEGFA","v":-90,"m":0.98,"e":0.01},{"g":"VEGFA","v":-80,"m":0.94,"e":0.02},{"g":"VEGFA","v":-70,"m":0.85,"e":0.03},{"g":"VEGFA","v":-60,"m":0.67,"e":0.04},{"g":"VEGFA","v":-50,"m":0.53,"e":0.04},{"g":"VEGFA","v":-40,"m":0.38,"e":0.04},{"g":"VEGFA","v":-30,"m":0.21,"e":0.03},{"g":"VEGFA","v":-20,"m":0.06,"e":0.02},{"g":"VEGFA","v":-10,"m":0.02,"e":0.01},{"g":"VEGFA","v":0,"m":0.01,"e":0},{"g":"VEGFA","v":10,"m":0.01,"e":0},
      {"g":"EG00229","v":-120,"m":1,"e":0},{"g":"EG00229","v":-110,"m":0.99,"e":0},{"g":"EG00229","v":-100,"m":0.98,"e":0.01},{"g":"EG00229","v":-90,"m":0.96,"e":0.01},{"g":"EG00229","v":-80,"m":0.91,"e":0.02},{"g":"EG00229","v":-70,"m":0.82,"e":0.03},{"g":"EG00229","v":-60,"m":0.62,"e":0.04},{"g":"EG00229","v":-50,"m":0.5,"e":0.04},{"g":"EG00229","v":-40,"m":0.37,"e":0.04},{"g":"EG00229","v":-30,"m":0.21,"e":0.03},{"g":"EG00229","v":-20,"m":0.07,"e":0.02},{"g":"EG00229","v":-10,"m":0.03,"e":0.01},{"g":"EG00229","v":0,"m":0.01,"e":0.01},{"g":"EG00229","v":10,"m":0.02,"e":0.01},
      {"g":"EG00229 + VEGFA","v":-120,"m":1,"e":0},{"g":"EG00229 + VEGFA","v":-110,"m":0.99,"e":0},{"g":"EG00229 + VEGFA","v":-100,"m":0.98,"e":0.01},{"g":"EG00229 + VEGFA","v":-90,"m":0.96,"e":0.01},{"g":"EG00229 + VEGFA","v":-80,"m":0.91,"e":0.02},{"g":"EG00229 + VEGFA","v":-70,"m":0.8,"e":0.03},{"g":"EG00229 + VEGFA","v":-60,"m":0.63,"e":0.04},{"g":"EG00229 + VEGFA","v":-50,"m":0.5,"e":0.04},{"g":"EG00229 + VEGFA","v":-40,"m":0.36,"e":0.04},{"g":"EG00229 + VEGFA","v":-30,"m":0.27,"e":0.03},{"g":"EG00229 + VEGFA","v":-20,"m":0.1,"e":0.02},{"g":"EG00229 + VEGFA","v":-10,"m":0.04,"e":0.01},{"g":"EG00229 + VEGFA","v":0,"m":0.04,"e":0.01},{"g":"EG00229 + VEGFA","v":10,"m":0.04,"e":0.01},
      {"g":"12h + VEGFA","v":-120,"m":1,"e":0},{"g":"12h + VEGFA","v":-110,"m":0.99,"e":0},{"g":"12h + VEGFA","v":-100,"m":0.99,"e":0.01},{"g":"12h + VEGFA","v":-90,"m":0.97,"e":0.01},{"g":"12h + VEGFA","v":-80,"m":0.93,"e":0.02},{"g":"12h + VEGFA","v":-70,"m":0.88,"e":0.03},{"g":"12h + VEGFA","v":-60,"m":0.72,"e":0.03},{"g":"12h + VEGFA","v":-50,"m":0.52,"e":0.04},{"g":"12h + VEGFA","v":-40,"m":0.35,"e":0.04},{"g":"12h + VEGFA","v":-30,"m":0.21,"e":0.03},{"g":"12h + VEGFA","v":-20,"m":0.08,"e":0.02},{"g":"12h + VEGFA","v":-10,"m":0.03,"e":0.01},{"g":"12h + VEGFA","v":0,"m":0.02,"e":0.01},{"g":"12h + VEGFA","v":10,"m":0.02,"e":0.01},
      {"g":"12h","v":-120,"m":1,"e":0},{"g":"12h","v":-110,"m":0.99,"e":0},{"g":"12h","v":-100,"m":0.98,"e":0.01},{"g":"12h","v":-90,"m":0.96,"e":0.01},{"g":"12h","v":-80,"m":0.9,"e":0.02},{"g":"12h","v":-70,"m":0.8,"e":0.03},{"g":"12h","v":-60,"m":0.66,"e":0.05},{"g":"12h","v":-50,"m":0.47,"e":0.06},{"g":"12h","v":-40,"m":0.3,"e":0.06},{"g":"12h","v":-30,"m":0.18,"e":0.05},{"g":"12h","v":-20,"m":0.08,"e":0.03},{"g":"12h","v":-10,"m":0.02,"e":0.01},{"g":"12h","v":0,"m":0.01,"e":0.01},{"g":"12h","v":10,"m":0.02,"e":0.01},
      {"g":"DMSO","v":-120,"m":1,"e":0},{"g":"DMSO","v":-110,"m":0.99,"e":0},{"g":"DMSO","v":-100,"m":0.985,"e":0.01},{"g":"DMSO","v":-90,"m":0.95,"e":0.01},{"g":"DMSO","v":-80,"m":0.89,"e":0.03},{"g":"DMSO","v":-70,"m":0.77,"e":0.05},{"g":"DMSO","v":-60,"m":0.64,"e":0.06},{"g":"DMSO","v":-50,"m":0.5,"e":0.07},{"g":"DMSO","v":-40,"m":0.43,"e":0.06},{"g":"DMSO","v":-30,"m":0.3,"e":0.05},{"g":"DMSO","v":-20,"m":0.11,"e":0.03},{"g":"DMSO","v":-10,"m":0.03,"e":0.01},{"g":"DMSO","v":0,"m":0.02,"e":0.01},{"g":"DMSO","v":10,"m":0.02,"e":0.01}
    ]
  },
  "resolve": {"scale": {"x": "independent", "y": "independent"}, "axis": {"x": "independent", "y": "independent"}},
  "layer": [
    {
      "layer": [
        {
          "data": {"name": "traces"},
          "transform": [{"filter": "datum.g === 'DMSO'"}],
          "mark": {"type": "line", "strokeWidth": 0.85, "opacity": 0.9},
          "encoding": {
            "x": {"field": "t", "type": "quantitative", "scale": {"domain": [-6, 76], "range": [31, 174.5], "nice": false, "zero": false}, "axis": null},
            "y": {"field": "i", "type": "quantitative", "scale": {"domain": [-5, 3], "range": [126.5, -21.5], "nice": false, "zero": false}, "axis": null},
            "detail": {"field": "k", "type": "nominal"},
            "color": {"field": "g", "type": "nominal", "scale": {"domain": ["DMSO","EG00229","12h","VEGFA","EG00229 + VEGFA","12h + VEGFA"], "range": ["#3c6cc2","#c02fb6","#174f68","#6b3fc4","#6aae2a","#352463"]}}
          }
        },
        {
          "data": {"values": [{"g": "DMSO"}]},
          "mark": {"type": "point", "filled": true, "size": 36, "strokeWidth": 1, "opacity": 1},
          "encoding": {
            "x": {"datum": 0.11}, "y": {"datum": 1.11},
            "shape": {"field": "g", "type": "nominal", "scale": {"domain": ["DMSO","EG00229","12h","VEGFA","EG00229 + VEGFA","12h + VEGFA"], "range": ["circle","triangle-up","triangle-down","square","diamond","circle"]}},
            "fill": {"field": "g", "type": "nominal", "scale": {"domain": ["DMSO","EG00229","12h","VEGFA","EG00229 + VEGFA","12h + VEGFA"], "range": ["#74a3e6","#eba8e7","#2789b3","#b59ce4","#badf80","#553795"]}},
            "stroke": {"field": "g", "type": "nominal", "scale": {"domain": ["DMSO","EG00229","12h","VEGFA","EG00229 + VEGFA","12h + VEGFA"], "range": ["#3463b8","#b52fad","#15506c","#7a4cc6","#62a828","#2c1b58"]}}
          }
        },
        {
          "data": {"values": [{"g": "DMSO"}]},
          "mark": {"type": "text", "align": "left", "baseline": "middle", "fontSize": 18, "color": "#1a1a1a"},
          "encoding": {"x": {"datum": 4.3}, "y": {"datum": 1.11}, "text": {"field": "g"}}
        },
        {
          "data": {"values": [{"s": "1 nA"}]},
          "mark": {"type": "rule", "strokeWidth": 1.2, "color": "#222"},
          "encoding": {"x": {"datum": 62.6}, "y": {"datum": -1.7}, "y2": {"datum": -2.7}}
        },
        {
          "data": {"values": [{"s": "10 ms"}]},
          "mark": {"type": "rule", "strokeWidth": 1.2, "color": "#222"},
          "encoding": {"x": {"datum": 62.6}, "x2": {"datum": 72.6}, "y": {"datum": -2.7}}
        },
        {
          "data": {"values": [{"s": "1 nA"}]},
          "mark": {"type": "text", "angle": 270, "align": "center", "baseline": "middle", "fontSize": 11, "color": "#1a1a1a"},
          "encoding": {"x": {"datum": 58.3}, "y": {"datum": -2.3}, "text": {"field": "s"}}
        },
        {
          "data": {"values": [{"s": "10 ms"}]},
          "mark": {"type": "text", "align": "center", "baseline": "middle", "fontSize": 11, "color": "#1a1a1a"},
          "encoding": {"x": {"datum": 70}, "y": {"datum": -3.05}, "text": {"field": "s"}}
        },
        {
          "data": {"values": [{"s": "A"}]},
          "mark": {"type": "text", "align": "left", "baseline": "alphabetic", "fontSize": 22, "fontWeight": "bold", "color": "#111"},
          "encoding": {"x": {"datum": -23.1}, "y": {"datum": 0.81}, "text": {"field": "s"}}
        }
      ]
    },
    {
      "layer": [
        {
          "data": {"name": "traces"},
          "transform": [{"filter": "datum.g === 'EG00229'"}],
          "mark": {"type": "line", "strokeWidth": 0.85, "opacity": 0.9},
          "encoding": {
            "x": {"field": "t", "type": "quantitative", "scale": {"domain": [-6, 76], "range": [190, 333.5], "nice": false, "zero": false}, "axis": null},
            "y": {"field": "i", "type": "quantitative", "scale": {"domain": [-5, 3], "range": [126.5, -21.5], "nice": false, "zero": false}, "axis": null},
            "detail": {"field": "k", "type": "nominal"},
            "color": {"field": "g", "type": "nominal"}
          }
        },
        {
          "data": {"values": [{"g": "EG00229"}]},
          "mark": {"type": "point", "filled": true, "size": 36, "strokeWidth": 1, "opacity": 1},
          "encoding": {"x": {"datum": 0.69}, "y": {"datum": 1.11}, "shape": {"field": "g", "type": "nominal"}, "fill": {"field": "g", "type": "nominal"}, "stroke": {"field": "g", "type": "nominal"}}
        },
        {
          "data": {"values": [{"g": "EG00229"}]},
          "mark": {"type": "text", "align": "left", "baseline": "middle", "fontSize": 18, "color": "#1a1a1a"},
          "encoding": {"x": {"datum": 7.7}, "y": {"datum": 1.11}, "text": {"field": "g"}}
        }
      ]
    },
    {
      "layer": [
        {
          "data": {"name": "traces"},
          "transform": [{"filter": "datum.g === '12h'"}],
          "mark": {"type": "line", "strokeWidth": 0.85, "opacity": 0.9},
          "encoding": {
            "x": {"field": "t", "type": "quantitative", "scale": {"domain": [-6, 76], "range": [362, 505.5], "nice": false, "zero": false}, "axis": null},
            "y": {"field": "i", "type": "quantitative", "scale": {"domain": [-5, 3], "range": [126.5, -21.5], "nice": false, "zero": false}, "axis": null},
            "detail": {"field": "k", "type": "nominal"},
            "color": {"field": "g", "type": "nominal"}
          }
        },
        {
          "data": {"values": [{"g": "12h"}]},
          "mark": {"type": "point", "filled": true, "size": 36, "strokeWidth": 1, "opacity": 1},
          "encoding": {"x": {"datum": 2.4}, "y": {"datum": 1.11}, "shape": {"field": "g", "type": "nominal"}, "fill": {"field": "g", "type": "nominal"}, "stroke": {"field": "g", "type": "nominal"}}
        },
        {
          "data": {"values": [{"g": "12h"}]},
          "mark": {"type": "text", "align": "left", "baseline": "middle", "fontSize": 18, "color": "#1a1a1a"},
          "encoding": {"x": {"datum": 9.4}, "y": {"datum": 1.11}, "text": {"field": "g"}}
        }
      ]
    },
    {
      "layer": [
        {
          "data": {"name": "traces"},
          "transform": [{"filter": "datum.g === 'VEGFA'"}],
          "mark": {"type": "line", "strokeWidth": 0.85, "opacity": 0.9},
          "encoding": {
            "x": {"field": "t", "type": "quantitative", "scale": {"domain": [-6, 76], "range": [31, 174.5], "nice": false, "zero": false}, "axis": null},
            "y": {"field": "i", "type": "quantitative", "scale": {"domain": [-5, 3], "range": [236.5, 88.5], "nice": false, "zero": false}, "axis": null},
            "detail": {"field": "k", "type": "nominal"},
            "color": {"field": "g", "type": "nominal"}
          }
        },
        {
          "data": {"values": [{"g": "VEGFA"}]},
          "mark": {"type": "point", "filled": true, "size": 36, "strokeWidth": 1, "opacity": 1},
          "encoding": {"x": {"datum": -1.26}, "y": {"datum": 1.03}, "shape": {"field": "g", "type": "nominal"}, "fill": {"field": "g", "type": "nominal"}, "stroke": {"field": "g", "type": "nominal"}}
        },
        {
          "data": {"values": [{"g": "VEGFA"}]},
          "mark": {"type": "text", "align": "left", "baseline": "middle", "fontSize": 18, "color": "#1a1a1a"},
          "encoding": {"x": {"datum": 4.9}, "y": {"datum": 1.03}, "text": {"field": "g"}}
        }
      ]
    },
    {
      "layer": [
        {
          "data": {"name": "traces"},
          "transform": [{"filter": "datum.g === 'EG00229 + VEGFA'"}],
          "mark": {"type": "line", "strokeWidth": 0.85, "opacity": 0.9},
          "encoding": {
            "x": {"field": "t", "type": "quantitative", "scale": {"domain": [-6, 76], "range": [193, 336.5], "nice": false, "zero": false}, "axis": null},
            "y": {"field": "i", "type": "quantitative", "scale": {"domain": [-5, 3], "range": [236.5, 88.5], "nice": false, "zero": false}, "axis": null},
            "detail": {"field": "k", "type": "nominal"},
            "color": {"field": "g", "type": "nominal"}
          }
        },
        {
          "data": {"values": [{"g": "EG00229 + VEGFA"}]},
          "mark": {"type": "point", "filled": true, "size": 36, "strokeWidth": 1, "opacity": 1},
          "encoding": {"x": {"datum": -1.43}, "y": {"datum": 1.14}, "shape": {"field": "g", "type": "nominal"}, "fill": {"field": "g", "type": "nominal"}, "stroke": {"field": "g", "type": "nominal"}}
        },
        {
          "data": {"values": [{"s": "+ VEGFA"}]},
          "mark": {"type": "text", "align": "left", "baseline": "middle", "fontSize": 18, "color": "#1a1a1a"},
          "encoding": {"x": {"datum": 5.9}, "y": {"datum": 1.14}, "text": {"field": "s"}}
        },
        {
          "data": {"values": [{"s": "EG00229"}]},
          "mark": {"type": "text", "align": "center", "baseline": "middle", "fontSize": 18, "color": "#1a1a1a"},
          "encoding": {"x": {"datum": 32.3}, "y": {"datum": 2.19}, "text": {"field": "s"}}
        }
      ]
    },
    {
      "layer": [
        {
          "data": {"name": "traces"},
          "transform": [{"filter": "datum.g === '12h + VEGFA'"}],
          "mark": {"type": "line", "strokeWidth": 0.85, "opacity": 0.9},
          "encoding": {
            "x": {"field": "t", "type": "quantitative", "scale": {"domain": [-6, 76], "range": [366, 509.5], "nice": false, "zero": false}, "axis": null},
            "y": {"field": "i", "type": "quantitative", "scale": {"domain": [-5, 3], "range": [236.5, 88.5], "nice": false, "zero": false}, "axis": null},
            "detail": {"field": "k", "type": "nominal"},
            "color": {"field": "g", "type": "nominal"}
          }
        },
        {
          "data": {"values": [{"g": "12h + VEGFA"}]},
          "mark": {"type": "point", "filled": true, "size": 36, "strokeWidth": 1, "opacity": 1},
          "encoding": {"x": {"datum": 0.11}, "y": {"datum": 1.03}, "shape": {"field": "g", "type": "nominal"}, "fill": {"field": "g", "type": "nominal"}, "stroke": {"field": "g", "type": "nominal"}}
        },
        {
          "data": {"values": [{"g": "12h + VEGFA"}]},
          "mark": {"type": "text", "align": "left", "baseline": "middle", "fontSize": 18, "color": "#1a1a1a"},
          "encoding": {"x": {"datum": 6.5}, "y": {"datum": 1.03}, "text": {"field": "g"}}
        }
      ]
    },
    {
      "layer": [
        {
          "data": {"name": "iv"},
          "mark": {"type": "line", "strokeWidth": 1},
          "encoding": {
            "x": {"field": "v", "type": "quantitative", "scale": {"domain": [-70, 60], "range": [79, 246], "nice": false, "zero": false},
              "axis": {"orient": "top", "offset": -269, "values": [-70,-60,-50,-40,-30,-20,-10,0,10,20,30,40,50,60], "labelExpr": "datum.value % 30 === 0 ? '' + datum.value : ''", "labelOverlap": false, "tickSize": 6, "labelPadding": 2, "title": "Voltage (mV)", "titlePadding": 1}},
            "y": {"field": "m", "type": "quantitative", "scale": {"domain": [-400, 0], "range": [432, 269], "nice": false, "zero": false},
              "axis": {"orient": "left", "offset": -79, "values": [-400,-300,-200,-100,0], "labelExpr": "'' + datum.value", "labelOverlap": false, "tickSize": 7, "labelPadding": 2, "title": "Iₙₐ density (pA/pF)", "titlePadding": 5}},
            "color": {"field": "g", "type": "nominal"}
          }
        },
        {
          "data": {"name": "iv"},
          "mark": {"type": "errorbar", "ticks": false, "thickness": 1.2},
          "encoding": {
            "x": {"field": "v", "type": "quantitative", "title": "Voltage (mV)"},
            "y": {"field": "m", "type": "quantitative", "title": "Iₙₐ density (pA/pF)"},
            "yError": {"field": "e"},
            "color": {"field": "g", "type": "nominal"}
          }
        },
        {
          "data": {"name": "iv"},
          "mark": {"type": "point", "filled": true, "size": 80, "strokeWidth": 1, "opacity": 1},
          "encoding": {
            "x": {"field": "v", "type": "quantitative"},
            "y": {"field": "m", "type": "quantitative"},
            "shape": {"field": "g", "type": "nominal"},
            "fill": {"field": "g", "type": "nominal"},
            "stroke": {"field": "g", "type": "nominal"}
          }
        },
        {
          "data": {"values": [{"s": "B"}]},
          "mark": {"type": "text", "align": "left", "baseline": "alphabetic", "fontSize": 22, "fontWeight": "bold", "color": "#111"},
          "encoding": {"x": {"datum": -126.8}, "y": {"datum": 76}, "text": {"field": "s"}}
        }
      ]
    },
    {
      "layer": [
        {
          "data": {"name": "peak"},
          "mark": {"type": "bar", "width": 17, "strokeWidth": 1.2},
          "encoding": {
            "x": {"field": "x", "type": "quantitative", "scale": {"domain": [0.3, 6.72], "range": [369, 537], "nice": false, "zero": false, "padding": 0},
              "axis": {"orient": "top", "offset": -268, "ticks": false, "labels": false, "title": null, "domainWidth": 1.5}},
            "y": {"field": "m", "type": "quantitative", "scale": {"domain": [-800, 0], "range": [431, 268], "nice": false, "zero": false},
              "axis": {"orient": "left", "offset": -369, "values": [-800,-600,-400,-200,0], "labelExpr": "'' + datum.value", "labelOverlap": false, "tickSize": 7, "labelPadding": 2, "title": "Peak Iₙₐ density (pA/pF)", "titlePadding": 27, "titleY": 340}},
            "y2": {"datum": 0},
            "fill": {"field": "g", "type": "nominal"},
            "stroke": {"field": "g", "type": "nominal"}
          }
        },
        {
          "data": {"name": "peak"},
          "mark": {"type": "errorbar", "ticks": false, "thickness": 1.3},
          "encoding": {
            "x": {"field": "x", "type": "quantitative", "title": null},
            "y": {"field": "m", "type": "quantitative", "title": "Peak Iₙₐ density (pA/pF)"},
            "yError": {"field": "e"},
            "color": {"field": "g", "type": "nominal"}
          }
        },
        {
          "data": {"name": "cells"},
          "mark": {"type": "point", "filled": true, "size": 55, "strokeWidth": 1.1, "opacity": 1},
          "encoding": {
            "x": {"field": "x", "type": "quantitative"},
            "y": {"field": "y", "type": "quantitative"},
            "shape": {"field": "g", "type": "nominal"},
            "fill": {"field": "g", "type": "nominal"},
            "stroke": {"field": "g", "type": "nominal"}
          }
        },
        {
          "data": {"name": "sig"},
          "mark": {"type": "rule", "strokeWidth": 1.2, "color": "#222"},
          "encoding": {
            "x": {"field": "a", "type": "quantitative"},
            "x2": {"field": "b"},
            "y": {"field": "y", "type": "quantitative"}
          }
        },
        {
          "data": {"name": "sig"},
          "mark": {"type": "text", "angle": 270, "align": "right", "baseline": "middle", "dx": -3, "fontSize": 18, "color": "#1a1a1a"},
          "encoding": {
            "x": {"field": "xm", "type": "quantitative"},
            "y": {"field": "y", "type": "quantitative"},
            "text": {"field": "p"}
          }
        },
        {
          "data": {"values": [{"s": "C"}]},
          "mark": {"type": "text", "align": "left", "baseline": "alphabetic", "fontSize": 22, "fontWeight": "bold", "color": "#111"},
          "encoding": {"x": {"datum": -2.45}, "y": {"datum": 147}, "text": {"field": "s"}}
        }
      ]
    },
    {
      "layer": [
        {
          "data": {"name": "act"},
          "mark": {"type": "line", "strokeWidth": 1, "interpolate": "monotone"},
          "encoding": {
            "x": {"field": "v", "type": "quantitative", "scale": {"domain": [-70, 30], "range": [80, 247], "nice": false, "zero": false},
              "axis": {"orient": "bottom", "offset": -56, "values": [-70,-60,-50,-40,-30,-20,-10,0,10,20,30], "labelExpr": "datum.value % 30 === 0 ? '' + datum.value : ''", "labelOverlap": false, "tickSize": 7, "labelPadding": 3, "title": "Voltage (mV)", "titlePadding": 1, "titleX": 173}},
            "y": {"field": "m", "type": "quantitative", "scale": {"domain": [0, 1.1], "range": [640, 473.9], "nice": false, "zero": false},
              "axis": {"orient": "left", "offset": -80, "values": [0, 0.2, 0.4, 0.6, 0.8, 1.0], "format": ".1f", "labelOverlap": false, "tickSize": 7, "labelPadding": 2, "title": "G/Gmax", "titlePadding": 18}},
            "color": {"field": "g", "type": "nominal"}
          }
        },
        {
          "data": {"name": "act"},
          "mark": {"type": "errorbar", "ticks": false, "thickness": 1.2},
          "encoding": {
            "x": {"field": "v", "type": "quantitative", "title": "Voltage (mV)"},
            "y": {"field": "m", "type": "quantitative", "title": "G/Gmax"},
            "yError": {"field": "e"},
            "color": {"field": "g", "type": "nominal"}
          }
        },
        {
          "data": {"name": "act"},
          "mark": {"type": "point", "filled": true, "size": 75, "strokeWidth": 1, "opacity": 1},
          "encoding": {
            "x": {"field": "v", "type": "quantitative"},
            "y": {"field": "m", "type": "quantitative"},
            "shape": {"field": "g", "type": "nominal"},
            "fill": {"field": "g", "type": "nominal"},
            "stroke": {"field": "g", "type": "nominal"}
          }
        },
        {
          "data": {"values": [{"s": "D"}]},
          "mark": {"type": "text", "align": "left", "baseline": "alphabetic", "fontSize": 22, "fontWeight": "bold", "color": "#111"},
          "encoding": {"x": {"datum": -113.7}, "y": {"datum": 1.093}, "text": {"field": "s"}}
        }
      ]
    },
    {
      "layer": [
        {
          "data": {"name": "inact"},
          "mark": {"type": "line", "strokeWidth": 1, "interpolate": "monotone"},
          "encoding": {
            "x": {"field": "v", "type": "quantitative", "scale": {"domain": [-120, 30], "range": [369, 533], "nice": false, "zero": false},
              "axis": {"orient": "bottom", "offset": -58, "values": [-120,-90,-60,-30,0,30], "labelExpr": "'' + datum.value", "labelOverlap": false, "tickSize": 6, "labelPadding": 3, "title": "Voltage (mV)", "titlePadding": 1}},
            "y": {"field": "m", "type": "quantitative", "scale": {"domain": [0, 1.1], "range": [638, 471.9], "nice": false, "zero": false},
              "axis": {"orient": "left", "offset": -369, "values": [0, 0.2, 0.4, 0.6, 0.8, 1.0], "format": ".1f", "labelOverlap": false, "tickSize": 7, "labelPadding": 2, "title": "I/Imax", "titlePadding": 19}},
            "color": {"field": "g", "type": "nominal"}
          }
        },
        {
          "data": {"name": "inact"},
          "mark": {"type": "errorbar", "ticks": false, "thickness": 1.2},
          "encoding": {
            "x": {"field": "v", "type": "quantitative", "title": "Voltage (mV)"},
            "y": {"field": "m", "type": "quantitative", "title": "I/Imax"},
            "yError": {"field": "e"},
            "color": {"field": "g", "type": "nominal"}
          }
        },
        {
          "data": {"name": "inact"},
          "mark": {"type": "point", "filled": true, "size": 75, "strokeWidth": 1, "opacity": 1},
          "encoding": {
            "x": {"field": "v", "type": "quantitative"},
            "y": {"field": "m", "type": "quantitative"},
            "shape": {"field": "g", "type": "nominal"},
            "fill": {"field": "g", "type": "nominal"},
            "stroke": {"field": "g", "type": "nominal"}
          }
        }
      ]
    },
    {
      "data": {"values": [{"s": "E"}]},
      "mark": {"type": "text", "align": "left", "baseline": "alphabetic", "fontSize": 22, "fontWeight": "bold", "color": "#111"},
      "encoding": {
        "x": {"datum": -190.4, "type": "quantitative", "scale": {"domain": [-120, 30], "range": [369, 533], "nice": false, "zero": false},
          "axis": {"orient": "bottom", "offset": -58, "values": [-120,-110,-100,-90,-80,-70,-60,-50,-40,-30,-20,-10,0,10,20,30], "labels": false, "domain": false, "tickSize": 6, "title": null}},
        "y": {"datum": 1.093, "type": "quantitative", "scale": {"domain": [0, 1.1], "range": [638, 471.9], "nice": false, "zero": false}, "axis": null},
        "text": {"field": "s"}
      }
    }
  ]
}
